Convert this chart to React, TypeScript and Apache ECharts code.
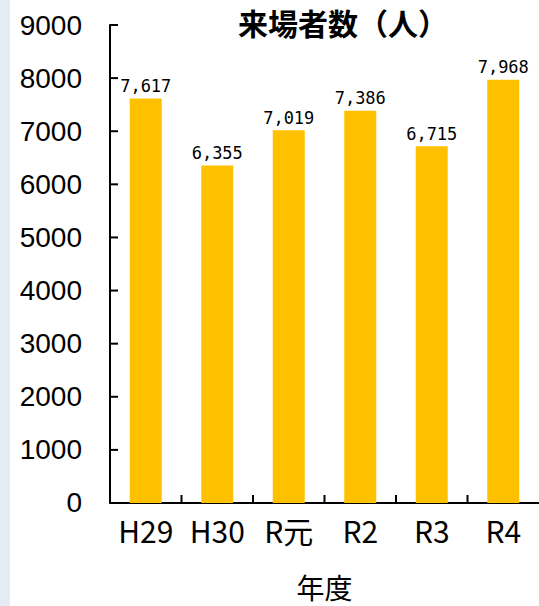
import React, { useEffect, useRef } from "react";
import * as echarts from "echarts";

// 年度別の来場者数
const categories = ["H29", "H30", "R元", "R2", "R3", "R4"];
const visitors = [7617, 6355, 7019, 7386, 6715, 7968];
const yTicks = { min: 0, max: 9000, interval: 1000 };

const yTickValues: number[] = [];
for (let v = yTicks.min; v <= yTicks.max; v += yTicks.interval) yTickValues.push(v);

const TICK_LEN = 8;
const tickStyle = { stroke: "#000", lineWidth: 2 };

export default function App() {
  const ref = useRef<HTMLDivElement>(null);

  useEffect(() => {
    if (!ref.current) return;
    const chart = echarts.init(ref.current, null, { renderer: "svg" });
    chart.setOption({
      animation: false,
      backgroundColor: "#ffffff",
      title: {
        text: "来場者数（人）",
        left: 233,
        top: 2,
        textStyle: {
          fontFamily: "Noto Sans CJK JP",
          fontSize: 30,
          fontWeight: "bold",
          color: "#000",
        },
      },
      graphic: [
        {
          type: "rect",
          left: 0,
          top: 0,
          shape: { x: 0, y: 0, width: 10, height: 606 },
          style: { fill: "#E5EBF5" },
          silent: true,
        },
      ],
      grid: { left: 110, top: 25, width: 438, height: 481 },
      xAxis: {
        type: "category",
        data: categories,
        name: "年度",
        nameLocation: "middle",
        nameGap: 70,
        nameTextStyle: {
          fontFamily: "Noto Sans CJK JP",
          fontSize: 28,
          color: "#000",
        },
        axisLine: { show: true, lineStyle: { color: "#000", width: 2 } },
        axisTick: { show: false },
        axisLabel: {
          interval: 0,
          fontFamily: "Noto Sans CJK JP",
          fontSize: 30,
          color: "#000",
          margin: 12,
        },
      },
      yAxis: {
        type: "value",
        min: yTicks.min,
        max: yTicks.max,
        interval: yTicks.interval,
        axisLine: { show: true, lineStyle: { color: "#000", width: 2 } },
        axisTick: { show: false },
        splitLine: { show: false },
        axisLabel: {
          fontFamily: "Liberation Sans",
          fontSize: 28,
          color: "#000",
          margin: 28,
          formatter: (v: number) => String(v),
        },
      },
      series: [
        {
          type: "bar",
          data: visitors,
          barWidth: 32,
          itemStyle: { color: "#FFC000" },
          label: {
            show: true,
            position: "top",
            distance: 4,
            fontFamily: "DejaVu Sans Mono",
            fontSize: 17,
            color: "#000",
            formatter: (p: any) => Number(p.value).toLocaleString("en-US"),
          },
        },
        {
          // inward ticks on the value axis
          type: "custom",
          silent: true,
          clip: false,
          z: 5,
          data: yTickValues.map((v) => [0, v]),
          renderItem: (params: any, api: any) => {
            const cs = params.coordSys;
            const y = api.coord([0, api.value(1)])[1];
            return {
              type: "line",
              shape: { x1: cs.x, y1: y, x2: cs.x + TICK_LEN, y2: y },
              style: tickStyle,
            };
          },
        },
        {
          // inward ticks between categories
          type: "custom",
          silent: true,
          clip: false,
          z: 5,
          data: categories.slice(1).map((_, i) => [i + 1, 0]),
          renderItem: (params: any, api: any) => {
            const cs = params.coordSys;
            const band = api.size([1, 0])[0];
            const x = api.coord([api.value(0), 0])[0] - band / 2;
            const y = cs.y + cs.height;
            return {
              type: "line",
              shape: { x1: x, y1: y, x2: x, y2: y - TICK_LEN },
              style: tickStyle,
            };
          },
        },
      ],
    });
    return () => chart.dispose();
  }, []);

  return (
    <div
      ref={ref}
      style={{ position: "fixed", left: 0, top: 0, width: 539, height: 606 }}
    />
  );
}
